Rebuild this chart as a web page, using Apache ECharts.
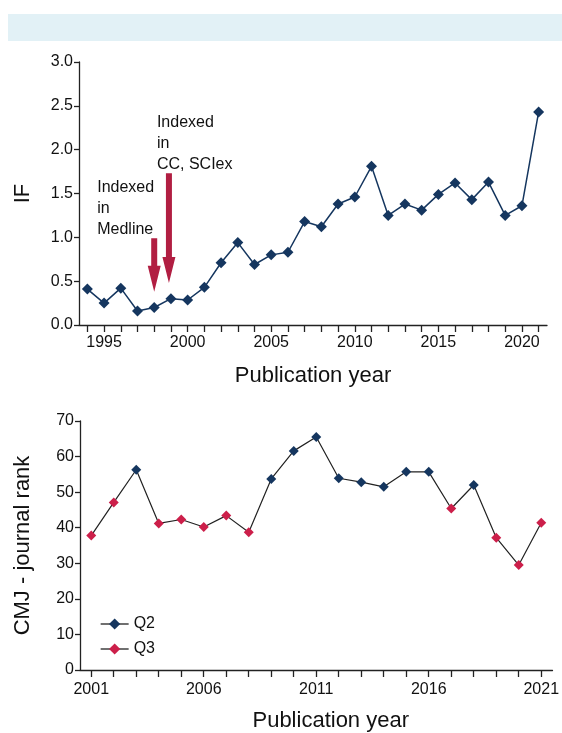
<!DOCTYPE html>
<html><head><meta charset="utf-8">
<script src="https://cdn.jsdelivr.net/npm/echarts@6/dist/echarts.min.js"></script>
<style>html,body{margin:0;padding:0;background:#fff}#c{width:562px;height:733px}</style>
</head><body><div id="c"></div>
<script>
// ---- data ----
const ifYears = ['1994','1995','1996','1997','1998','1999','2000','2001','2002','2003','2004','2005','2006','2007','2008','2009','2010','2011','2012','2013','2014','2015','2016','2017','2018','2019','2020','2021'];
const ifValues = [0.41,0.25,0.42,0.16,0.20,0.30,0.285,0.43,0.71,0.94,0.69,0.80,0.83,1.18,1.12,1.38,1.46,1.81,1.25,1.38,1.31,1.49,1.62,1.43,1.63,1.25,1.36,2.43];
const ifTicks = [0,0.5,1.0,1.5,2.0,2.5,3.0];

const rankYears = ['2001','2002','2003','2004','2005','2006','2007','2008','2009','2010','2011','2012','2013','2014','2015','2016','2017','2018','2019','2020','2021'];
const rankValues = [37.8,47.1,56.3,41.2,42.3,40.2,43.4,38.7,53.7,61.6,65.5,53.9,52.8,51.5,55.7,55.7,45.4,52.0,37.2,29.5,41.4];
const rankQuartile = ['Q3','Q3','Q2','Q3','Q3','Q3','Q3','Q3','Q2','Q2','Q2','Q2','Q2','Q2','Q2','Q2','Q3','Q2','Q3','Q3','Q3'];

const annotYears = ['1998','1999'];
const annotTexts = ['Indexed\nin\nMedline','Indexed\nin\nCC, SCIex'];
const annotTop = [0.99, 1.73];
const annotTip = [0.38, 0.48];

// ---- styles ----
const FONT = 'Liberation Sans, Arial, Helvetica, sans-serif';
const NAVY = '#15365f';
const RED = '#cc1f4a';
const ARROW = '#b11e42';
const AXIS = '#222';
const arrowDx = [0, -2];
const textDx = [-57, -12];

const q2 = rankValues.map((v,i)=> rankQuartile[i]==='Q2' ? v : null);
const q3 = rankValues.map((v,i)=> rankQuartile[i]==='Q3' ? v : null);

const chart = echarts.init(document.getElementById('c'), null, {renderer:'canvas'});

function xAxisCommon(data, gridIndex, labelFn, margin){
  return {
    type:'category', gridIndex, data, boundaryGap:true,
    axisLine:{lineStyle:{color:AXIS, width:1.3}},
    axisTick:{show:true, alignWithLabel:true, interval:0, length:7, lineStyle:{color:AXIS, width:1.3}},
    axisLabel:{interval:labelFn, color:'#111', fontSize:16, fontFamily:FONT, margin},
    name:'Publication year', nameLocation:'middle',
    nameTextStyle:{fontSize:22, fontFamily:FONT, color:'#111'},
    splitLine:{show:false}
  };
}

const option = {
  animation:false,
  backgroundColor:'#fff',
  graphic:[{type:'rect', shape:{x:8, y:14, width:554, height:27}, style:{fill:'#e2f1f6'}, silent:true}],
  grid:[
    {left:79, right:15, top:62, bottom:408},
    {left:80, right:8, top:421, bottom:61}
  ],
  xAxis:[
    Object.assign(xAxisCommon(ifYears, 0, (i,v)=> (+v)%5===0, 10), {nameGap:40}),
    Object.assign(xAxisCommon(rankYears, 1, (i,v)=> ((+v)-2001)%5===0, 12), {nameGap:40,
      nameTextStyle:{fontSize:22, fontFamily:FONT, color:'#111', padding:[0,0,0,29]}})
  ],
  yAxis:[
    {type:'value', gridIndex:0, min:ifTicks[0], max:ifTicks[ifTicks.length-1], interval:0.5,
     axisLine:{show:true, lineStyle:{color:AXIS, width:1.3}},
     axisTick:{show:true, length:5, lineStyle:{color:AXIS, width:1.3}},
     axisLabel:{formatter:v=>v.toFixed(1), color:'#111', fontSize:16, fontFamily:FONT, margin:6},
     splitLine:{show:false},
     name:'IF', nameLocation:'middle', nameGap:45,
     nameTextStyle:{fontSize:22, fontFamily:FONT, color:'#111'}},
    {type:'value', gridIndex:1, min:0, max:70, interval:10,
     axisLine:{show:true, lineStyle:{color:AXIS, width:1.3}},
     axisTick:{show:true, length:5, lineStyle:{color:AXIS, width:1.3}},
     axisLabel:{color:'#111', fontSize:16, fontFamily:FONT, margin:6},
     splitLine:{show:false},
     name:'CMJ - journal rank', nameLocation:'middle', nameGap:46,
     nameTextStyle:{fontSize:22, fontFamily:FONT, color:'#111'}}
  ],
  legend:{
    data:['Q2','Q3'], orient:'vertical', left:95, top:611, itemGap:9,
    itemWidth:28, itemHeight:14,
    textStyle:{fontSize:16, fontFamily:FONT, color:'#111'},
    lineStyle:{color:'#222', width:1.3, opacity:1}
  },
  series:[
    {type:'line', name:'IF', xAxisIndex:0, yAxisIndex:0, data:ifValues,
     symbol:'diamond', symbolSize:11, showAllSymbol:true,
     lineStyle:{color:NAVY, width:1.5}, itemStyle:{color:NAVY}, z:3},
    {type:'custom', name:'annot', xAxisIndex:0, yAxisIndex:0, z:4,
     data: annotYears.map((y,i)=>[y, annotTop[i], annotTip[i]]),
     renderItem:function(params, api){
       const i = params.dataIndex;
       const cat = api.value(0);
       const top = api.coord([cat, api.value(1)]);
       const tip = api.coord([cat, api.value(2)]);
       const x = top[0] + arrowDx[i];
       const headLen = 26, headW = 6.5, shaftW = 3;
       const hy = tip[1] - headLen;
       return {type:'group', children:[
         {type:'polygon', shape:{points:[[x-shaftW, top[1]],[x+shaftW, top[1]],[x+shaftW, hy],[x+headW, hy],[x, tip[1]],[x-headW, hy],[x-shaftW, hy]]},
          style:{fill:ARROW}},
         {type:'text', x: x + textDx[i], y: top[1] + 2,
          style:{text: annotTexts[i], font:'16px '+FONT, fill:'#111', lineHeight:21, align:'left', verticalAlign:'bottom'}}
       ]};
     }},
    {type:'line', name:'rank', xAxisIndex:1, yAxisIndex:1, data:rankValues,
     symbol:'none', lineStyle:{color:'#222', width:1.2}, z:2},
    {type:'line', name:'Q2', xAxisIndex:1, yAxisIndex:1, data:q2,
     symbol:'diamond', symbolSize:10, showAllSymbol:true,
     lineStyle:{opacity:0, color:'#222'}, itemStyle:{color:NAVY}, z:3},
    {type:'line', name:'Q3', xAxisIndex:1, yAxisIndex:1, data:q3,
     symbol:'diamond', symbolSize:10, showAllSymbol:true,
     lineStyle:{opacity:0, color:'#222'}, itemStyle:{color:RED}, z:3}
  ]
};
chart.setOption(option);
</script>
</body></html>
